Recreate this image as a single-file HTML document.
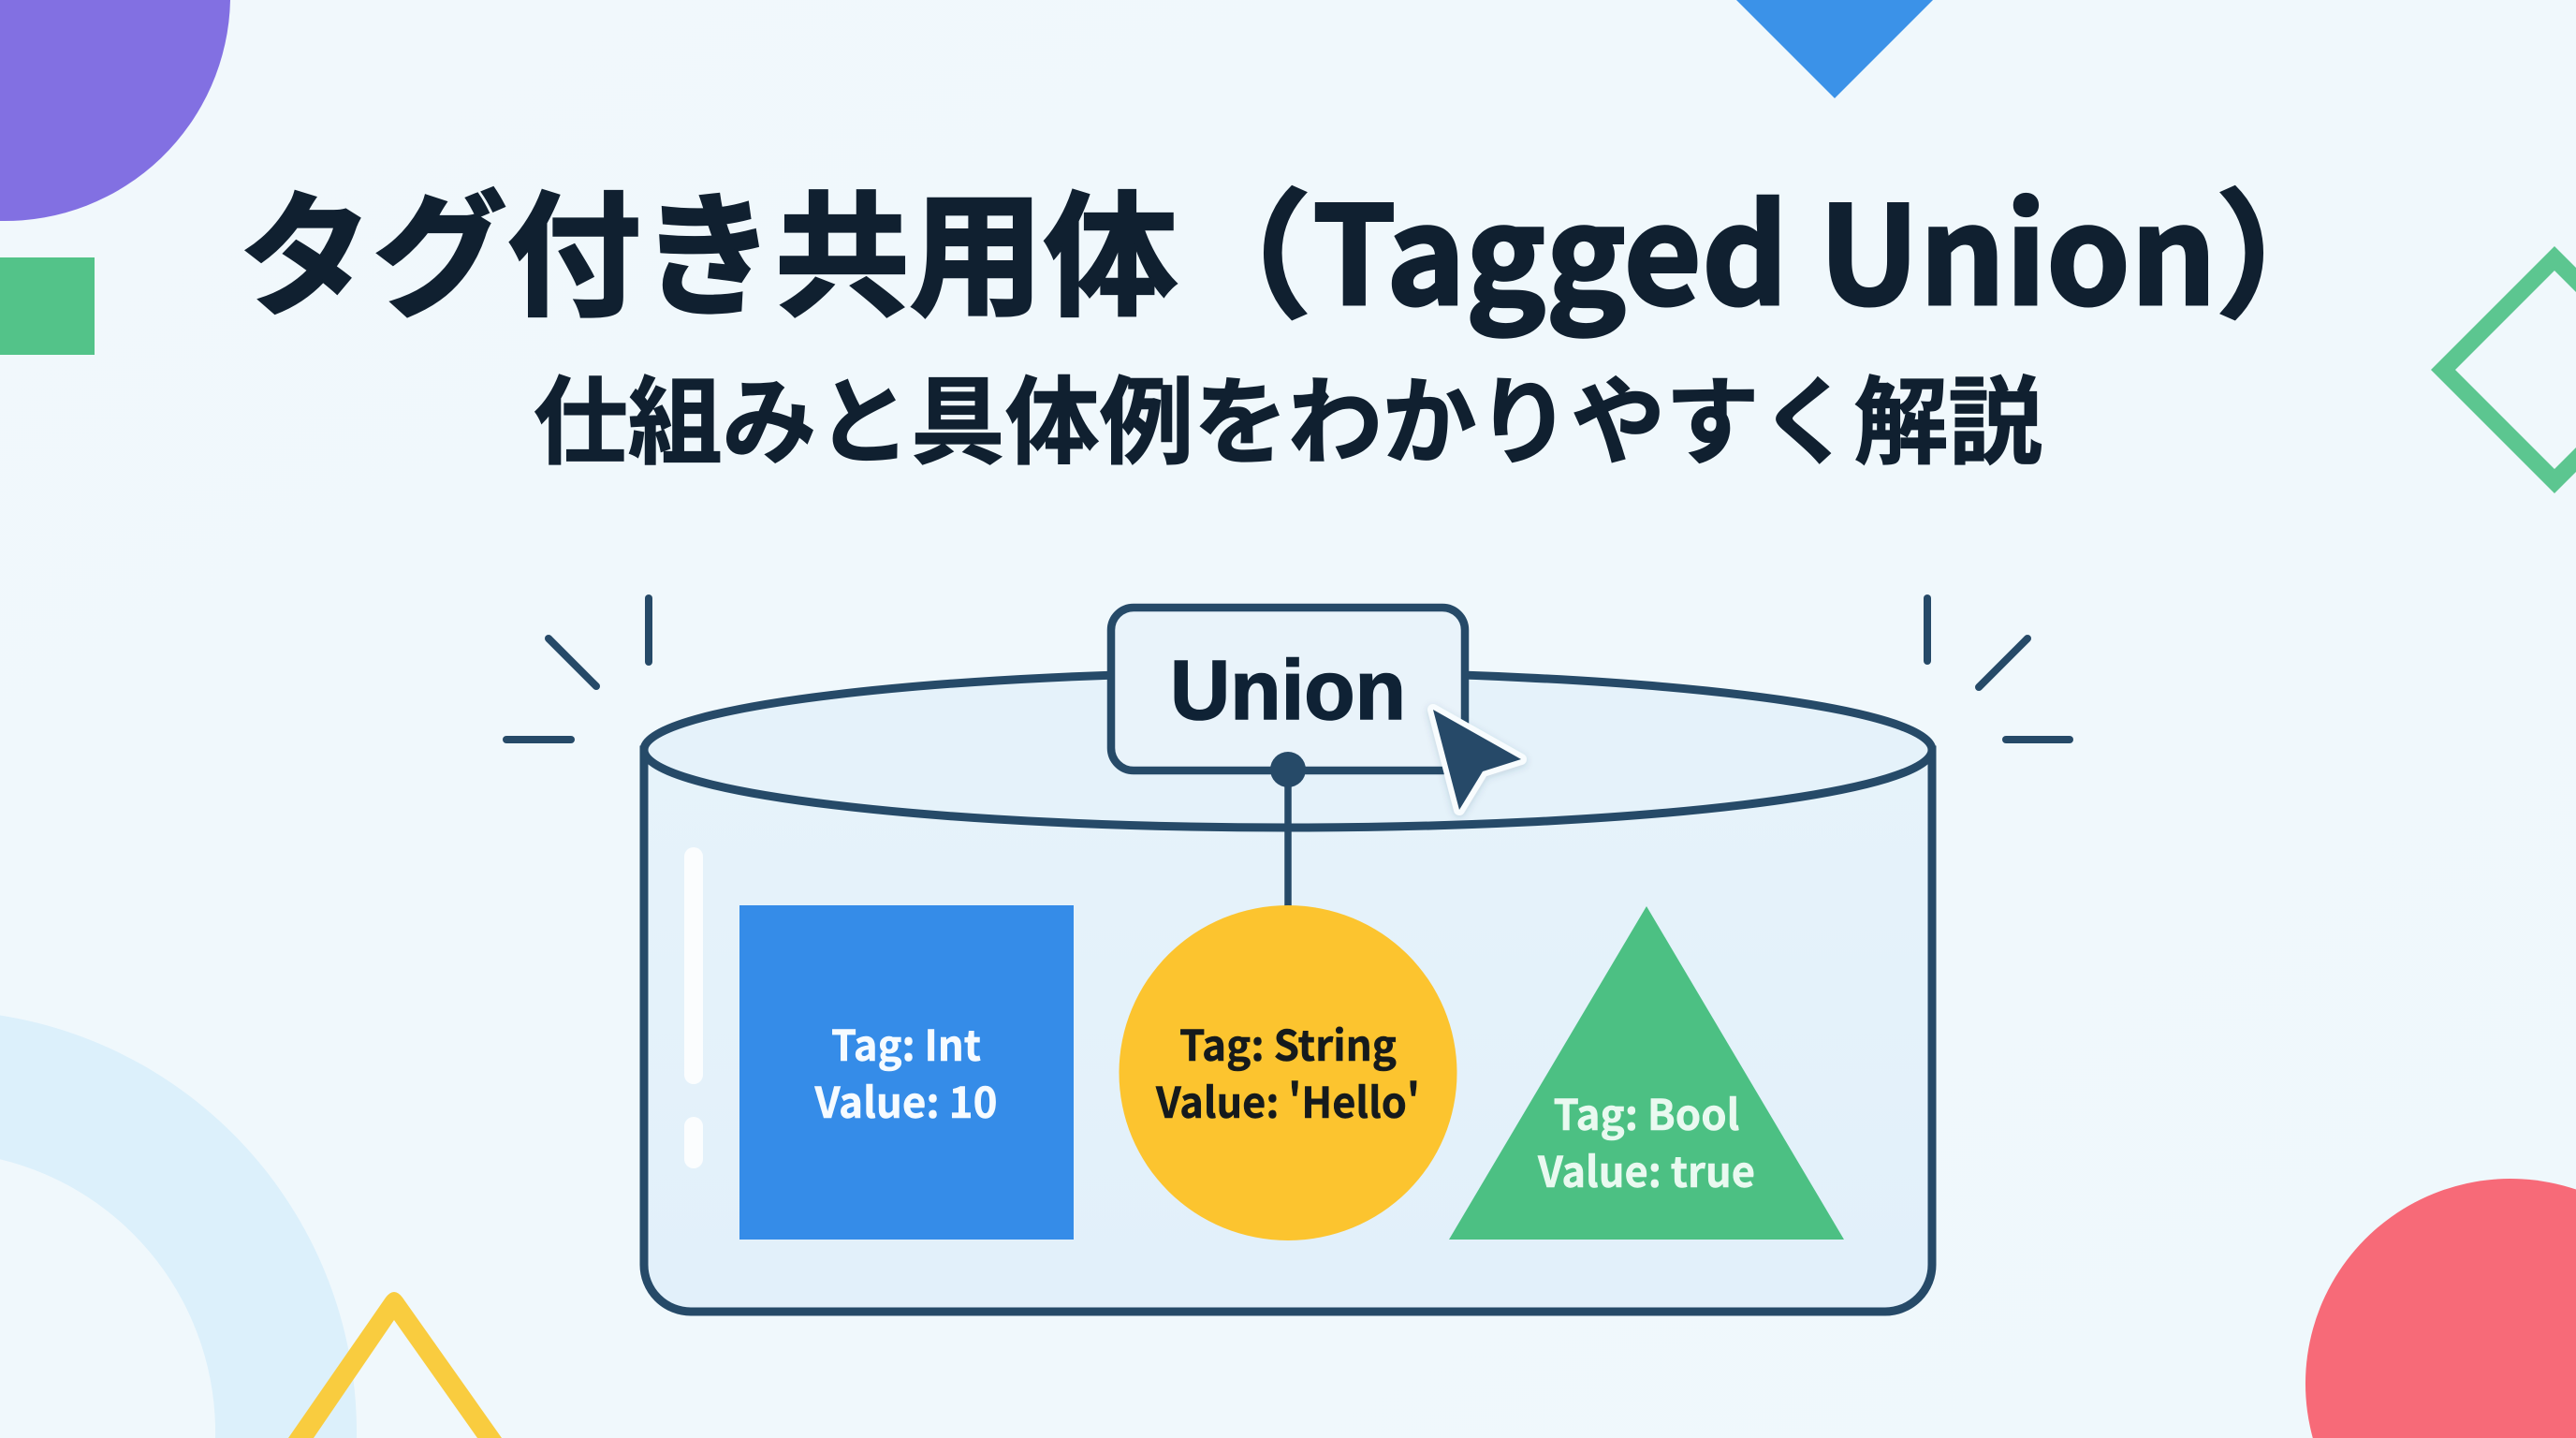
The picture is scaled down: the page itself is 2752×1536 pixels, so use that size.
<!DOCTYPE html>
<html lang="ja">
<head>
<meta charset="utf-8">
<title>タグ付き共用体（Tagged Union）</title>
<style>
html,body{margin:0;padding:0;width:2752px;height:1536px;overflow:hidden;background:#f0f8fc}
svg{display:block}
text{font-family:"Noto Sans CJK JP","Liberation Sans",sans-serif;font-weight:700}
.t{fill:#102030;stroke:#102030;stroke-width:3;stroke-linejoin:miter}
.s{fill:#102030;stroke:#102030;stroke-width:1.2}
.u{font-family:"Liberation Sans","Noto Sans CJK JP",sans-serif;fill:#0f2235;stroke:#0f2235;stroke-width:1.6}
.w{fill:#f6fbff;stroke:#f6fbff;stroke-width:.5}
.k{fill:#151a1c;stroke:#151a1c;stroke-width:.5}
.g{fill:#e9f9f0;stroke:#e9f9f0;stroke-width:.5}
</style>
</head>
<body>
<svg width="2752" height="1536" viewBox="0 0 2752 1536" xmlns="http://www.w3.org/2000/svg">
<defs>
<linearGradient id="bg" x1="0" y1="0" x2="1" y2="1">
<stop offset="0" stop-color="#f1f8fc"/><stop offset="1" stop-color="#eff8fc"/>
</linearGradient>
<linearGradient id="glass" x1="0" y1="0" x2="0" y2="1">
<stop offset="0" stop-color="#e6f3fa"/><stop offset="1" stop-color="#e2f0fa"/>
</linearGradient>
<filter id="sh" x="-20%" y="-20%" width="140%" height="140%"><feDropShadow dx="0" dy="2" stdDeviation="4" flood-color="#264a68" flood-opacity="0.18"/></filter>
</defs>
<rect width="2752" height="1536" fill="url(#bg)"/>

<!-- background decoration -->
<path d="M0 0 H246 A241 241 0 0 1 0 236 Z" fill="#8270e2"/>
<rect x="0" y="275" width="101" height="104" fill="#53c389"/>
<polygon points="1855,0 2065,0 1960,105" fill="#3b92e8"/>
<path d="M2597 395 L2729 263 L2752 286 V312 L2729 289 L2623 395 L2729 501 L2752 478 V504 L2729 527 Z" fill="#5cc690"/>
<path d="M0 1084.5 A451 451 0 0 1 381 1536 H230 A300 300 0 0 0 0 1238.3 Z" fill="#dcf0fb"/>
<path d="M308 1536 L412 1386 Q421 1374 430 1386 L536 1536 H510 L421 1410 L335 1536 Z" fill="#f9cc3f"/>
<path d="M2752 1536 V1270.5 A219 219 0 0 0 2470.8 1536 Z" fill="#f76a78"/>

<!-- title -->
<text class="t" x="255" y="325" font-size="144" textLength="1003" lengthAdjust="spacingAndGlyphs">タグ付き共用体</text>
<text class="t" x="1254" y="326" font-size="147">（</text>
<text class="t" x="1402" y="325" font-size="145" textLength="966" lengthAdjust="spacingAndGlyphs">Tagged Union</text>
<text class="t" x="2367" y="326" font-size="147">）</text>
<text class="s" x="570" y="487" font-size="102" textLength="1612" lengthAdjust="spacingAndGlyphs">仕組みと具体例をわかりやすく解説</text>

<!-- spark ticks -->
<g stroke="#264a68" stroke-width="8" stroke-linecap="round" fill="none">
<line x1="693" y1="639" x2="693" y2="707"/>
<line x1="586" y1="682" x2="637" y2="733"/>
<line x1="541" y1="790" x2="610" y2="790"/>
<line x1="2059" y1="639" x2="2059" y2="706"/>
<line x1="2166" y1="682" x2="2114" y2="734"/>
<line x1="2143" y1="790" x2="2211" y2="790"/>
</g>

<!-- cylinder -->
<path d="M688 801 V1351 A50 50 0 0 0 738 1401 H2014 A50 50 0 0 0 2064 1351 V801 Z" fill="url(#glass)" stroke="#264a68" stroke-width="9"/>
<ellipse cx="1376" cy="801" rx="688" ry="83" fill="#e5f2fa" stroke="#264a68" stroke-width="9"/>

<!-- glass highlights -->
<rect x="731" y="905" width="20" height="253" rx="10" fill="#fbfdfe"/>
<rect x="731" y="1193" width="20" height="55" rx="10" fill="#fbfdfe"/>

<!-- connector -->
<line x1="1376" y1="822" x2="1376" y2="968" stroke="#264a68" stroke-width="7.5"/>

<!-- union tag -->
<rect x="1187" y="649" width="378" height="174" rx="24" fill="#e9f3fa" stroke="#264a68" stroke-width="8.5"/>
<text class="u" x="1250" y="768" font-size="90" textLength="252" lengthAdjust="spacingAndGlyphs">Union</text>
<circle cx="1376" cy="822" r="19" fill="#264a68"/>

<!-- cursor -->
<polygon points="1531,758 1625,811 1584,824 1559,865" fill="#264a68" stroke="#f8fcfe" stroke-width="12" stroke-linejoin="round" paint-order="stroke" filter="url(#sh)"/>

<!-- variants -->
<rect x="790" y="967" width="357" height="357" fill="#358ce8"/>
<text class="w" x="968" y="1133" font-size="45" text-anchor="middle" textLength="160" lengthAdjust="spacingAndGlyphs">Tag: Int</text>
<text class="w" x="968" y="1194" font-size="45" text-anchor="middle" textLength="195" lengthAdjust="spacingAndGlyphs">Value: 10</text>

<ellipse cx="1376" cy="1146" rx="180.5" ry="179" fill="#fcc42f"/>
<text class="k" x="1376" y="1133" font-size="45" text-anchor="middle" textLength="232" lengthAdjust="spacingAndGlyphs">Tag: String</text>
<text class="k" x="1376" y="1194" font-size="45" text-anchor="middle" textLength="282" lengthAdjust="spacingAndGlyphs">Value: 'Hello'</text>

<polygon points="1759,968 1970,1324 1548,1324" fill="#4cc083"/>
<text class="g" x="1759" y="1207" font-size="45" text-anchor="middle" textLength="199" lengthAdjust="spacingAndGlyphs">Tag: Bool</text>
<text class="g" x="1759" y="1268" font-size="45" text-anchor="middle" textLength="232" lengthAdjust="spacingAndGlyphs">Value: true</text>
</svg>
</body>
</html>
